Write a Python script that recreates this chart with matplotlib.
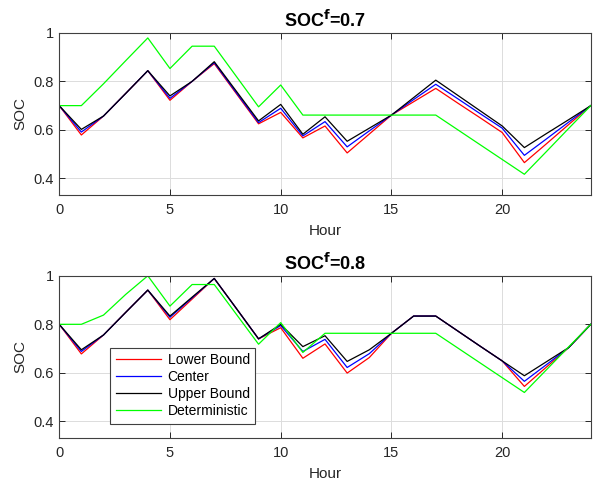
import numpy as np
import matplotlib
matplotlib.use('Agg')
import matplotlib.pyplot as plt

plt.rcParams['font.family'] = ['Liberation Sans', 'DejaVu Sans']

hours = np.arange(25)

# SOC^f = 0.7
lower_07 = [0.70, 0.579, 0.657, 0.75, 0.844, 0.722, 0.80, 0.873, 0.749, 0.625, 0.672, 0.567, 0.616,
            0.505, 0.583, 0.661, 0.716, 0.771, 0.710, 0.650, 0.589, 0.465, 0.543, 0.622, 0.70]
center_07 = [0.70, 0.591, 0.657, 0.75, 0.844, 0.73, 0.80, 0.877, 0.753, 0.630, 0.689, 0.575, 0.634,
             0.530, 0.596, 0.661, 0.725, 0.788, 0.728, 0.667, 0.607, 0.495, 0.563, 0.632, 0.70]
upper_07 = [0.70, 0.602, 0.657, 0.75, 0.844, 0.74, 0.80, 0.881, 0.759, 0.637, 0.705, 0.582, 0.654,
            0.553, 0.607, 0.661, 0.733, 0.805, 0.742, 0.679, 0.616, 0.527, 0.585, 0.642, 0.70]
determ_07 = [0.70, 0.70, 0.79, 0.885, 0.979, 0.853, 0.945, 0.945, 0.82, 0.695, 0.785, 0.661, 0.661,
             0.661, 0.661, 0.661, 0.661, 0.661, 0.600, 0.539, 0.478, 0.417, 0.511, 0.606, 0.70]

# SOC^f = 0.8
lower_08 = [0.80, 0.678, 0.756, 0.849, 0.941, 0.819, 0.904, 0.989, 0.865, 0.74, 0.786, 0.66, 0.719,
            0.599, 0.663, 0.763, 0.834, 0.834, 0.772, 0.710, 0.649, 0.544, 0.624, 0.704, 0.80]
center_08 = [0.80, 0.688, 0.756, 0.849, 0.941, 0.829, 0.909, 0.989, 0.865, 0.74, 0.795, 0.688, 0.738,
             0.622, 0.679, 0.763, 0.834, 0.834, 0.772, 0.710, 0.649, 0.565, 0.634, 0.704, 0.80]
upper_08 = [0.80, 0.695, 0.756, 0.849, 0.941, 0.834, 0.912, 0.989, 0.865, 0.74, 0.80, 0.708, 0.753,
            0.647, 0.695, 0.763, 0.834, 0.834, 0.772, 0.710, 0.649, 0.588, 0.646, 0.704, 0.80]
determ_08 = [0.80, 0.80, 0.838, 0.923, 1.0, 0.875, 0.964, 0.964, 0.841, 0.718, 0.807, 0.684, 0.763,
             0.763, 0.763, 0.763, 0.763, 0.763, 0.702, 0.641, 0.580, 0.519, 0.613, 0.707, 0.80]

panels = [
    ('0.7', lower_07, center_07, upper_07, determ_07),
    ('0.8', lower_08, center_08, upper_08, determ_08),
]

fig = plt.figure(figsize=(5.98, 4.83), dpi=100)
boxes = [[0.099, 0.597, 0.889, 0.335], [0.099, 0.094, 0.889, 0.335]]

for i, (soc_f, lo, ce, up, de) in enumerate(panels):
    ax = fig.add_axes(boxes[i])
    ax.plot(hours, lo, color='#ff0000', lw=0.9, label='Lower Bound')
    ax.plot(hours, ce, color='#0000ff', lw=0.9, label='Center')
    ax.plot(hours, up, color='#000000', lw=0.9, label='Upper Bound')
    ax.plot(hours, de, color='#00ff00', lw=0.9, label='Deterministic')
    ax.set_xlim(0, 24)
    ax.set_ylim(0.333, 1.0)
    ax.set_xticks([0, 5, 10, 15, 20])
    ax.set_yticks([0.4, 0.6, 0.8, 1.0])
    ax.set_yticklabels(['0.4', '0.6', '0.8', '1'])
    ax.grid(True, color='#dcdcdc', lw=0.7)
    ax.tick_params(direction='in', top=True, right=True, labelsize=10.5,
                   colors='#262626', length=4, width=0.7)
    ax.tick_params(axis='x', pad=6)
    ax.tick_params(axis='y', pad=4)
    for s in ax.spines.values():
        s.set_color('#404040')
        s.set_linewidth(0.8)
    ax.set_xlabel('Hour', fontsize=11, color='#262626', labelpad=5)
    ax.set_ylabel('SOC', fontsize=11, color='#262626', labelpad=4)
    ax.set_title('SOC$^{\\mathbf{f}}$=' + soc_f, fontsize=13, fontweight='bold', pad=4)
    if i == 1:
        leg = ax.legend(loc='lower left', bbox_to_anchor=(0.0955, 0.085), fontsize=10,
                        fancybox=False, framealpha=1, edgecolor='#404040',
                        handlelength=3.3, borderpad=0.4, labelspacing=0.22,
                        handletextpad=0.45, borderaxespad=0)
        leg.get_frame().set_linewidth(0.8)

fig.savefig('out.png', dpi=100)
